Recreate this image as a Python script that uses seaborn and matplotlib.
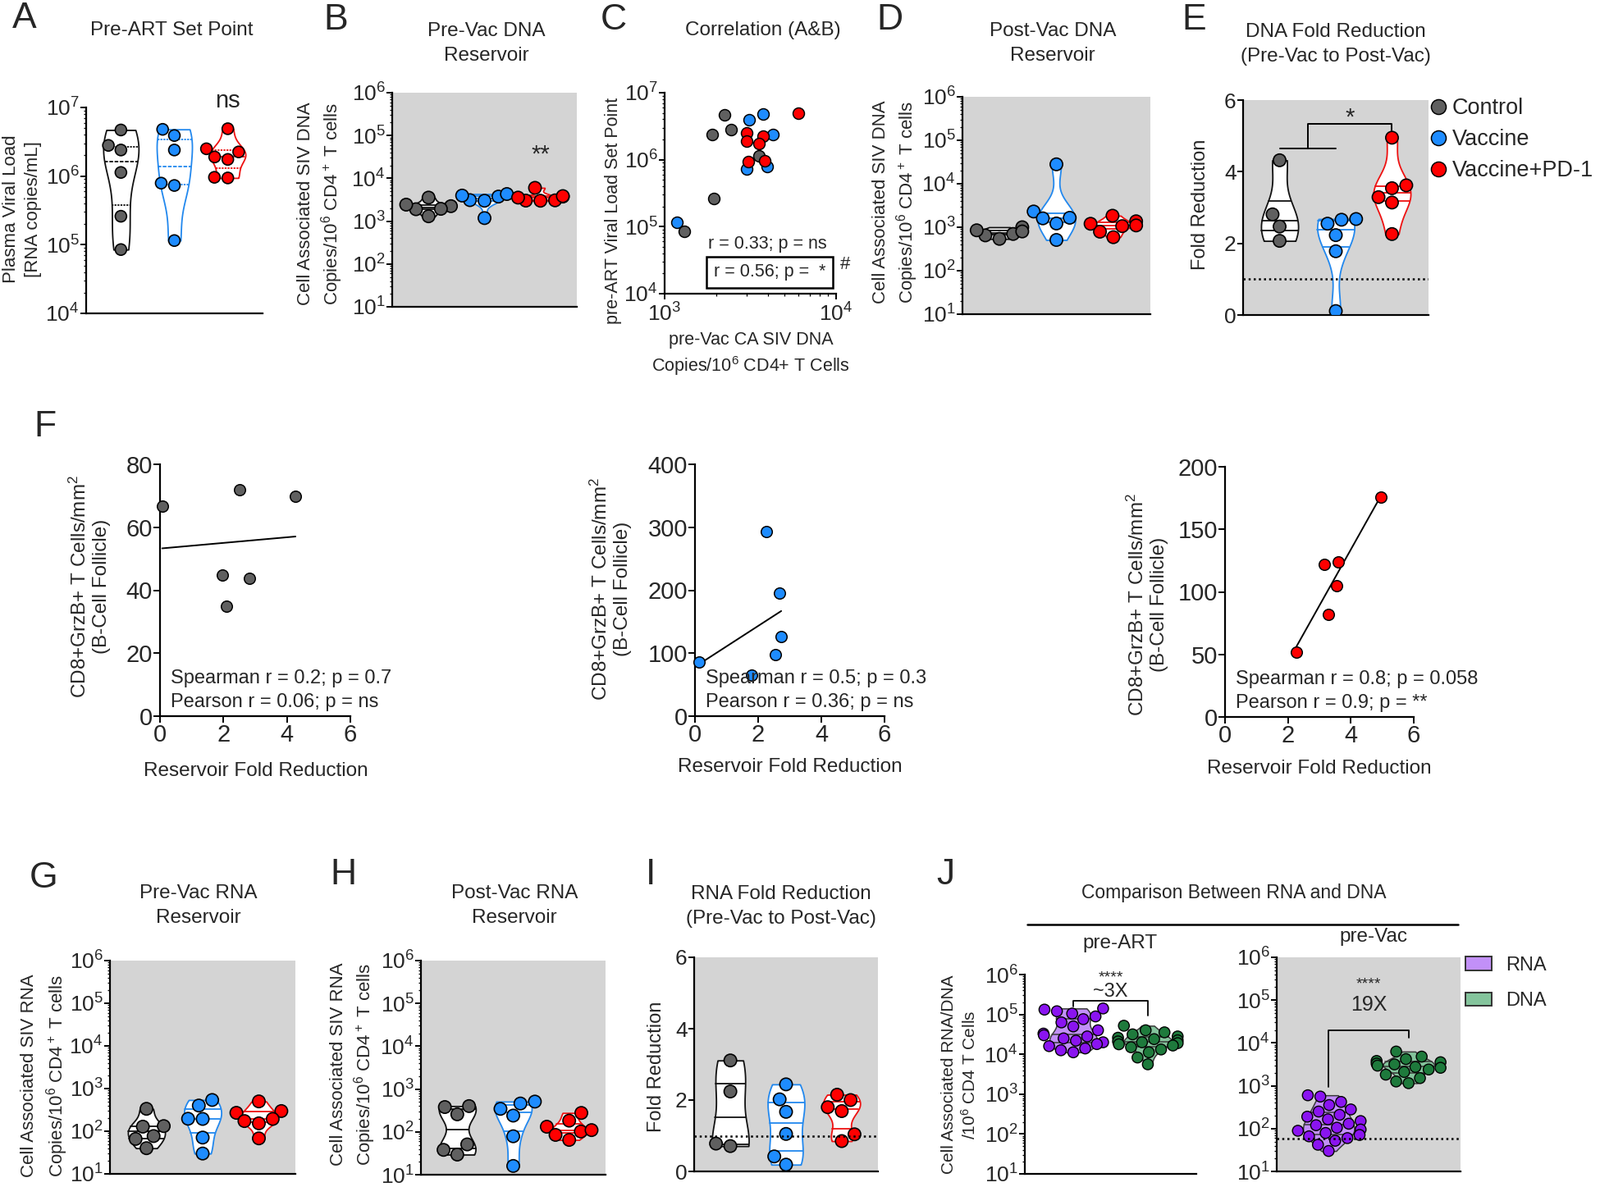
import warnings
warnings.filterwarnings("ignore")
import numpy as np
import pandas as pd
import matplotlib
matplotlib.use("Agg")
import matplotlib.pyplot as plt
from matplotlib.lines import Line2D
from matplotlib.patches import Patch
from matplotlib.collections import LineCollection
from matplotlib.ticker import LogLocator, NullFormatter, FixedLocator
import seaborn as sns

# ---------------- data ----------------
GROUPS = ["Control", "Vaccine", "Vaccine+PD-1"]

# A (and C y): pre-ART plasma viral load, RNA copies/mL
preART_VL_control = [4.7e6, 2.4e6, 2.8e6, 1.13e6, 2.6e5, 8.5e4]
preART_VL_vaccine = [1.15e5, 3.9e6, 4.8e6, 2.4e6, 7.3e5, 7.9e5]
preART_VL_pd1 = [4.9e6, 2.5e6, 1.9e6, 2.25e6, 1.75e6, 9.4e5, 9.6e5]

# B (and C x): pre-Vac CA SIV DNA copies / 1e6 CD4
preVac_DNA_control = [2.24e3, 1.9e3, 2.43e3, 3.55e3, 1.94e3, 1.3e3]
preVac_DNA_vaccine = [1.18e3, 3.1e3, 3.75e3, 4.3e3, 3.0e3, 3.96e3]
preVac_DNA_pd1 = [6.0e3, 3.0e3, 3.02e3, 3.75e3, 3.55e3, 3.06e3, 3.85e3]

# D: post-Vac CA SIV DNA
postVac_DNA_control = [540, 1000, 650, 850, 700, 800]
postVac_DNA_vaccine = [28000, 2300, 1650, 1600, 1220, 510]
postVac_DNA_pd1 = [1370, 1840, 1100, 1060, 790, 590, 1200]

# E: DNA fold reduction
dna_fold_control = [4.32, 2.81, 2.47, 2.07]
dna_fold_vaccine = [2.68, 2.66, 2.55, 2.23, 1.78, 0.11]
dna_fold_pd1 = [4.95, 3.54, 3.62, 3.29, 3.14, 2.26]

# F: reservoir fold reduction vs CD8+GrzB+ T cells/mm2
f_fold_control = [0.07, 2.5, 4.27, 1.96, 2.81, 2.1]
f_cd8_control = [66.7, 71.8, 69.8, 44.7, 43.9, 34.8]
f_fold_vaccine = [0.13, 1.79, 2.25, 2.67, 2.55, 2.73]
f_cd8_vaccine = [86, 65, 293, 195, 98, 126.5]
f_fold_pd1 = [2.27, 3.29, 3.16, 3.6, 3.56, 4.95]
f_cd8_pd1 = [52.1, 81.8, 122.1, 124, 105.1, 175.9]

# G: pre-Vac CA SIV RNA
preVac_RNA_control = [335, 128, 132, 77, 66, 40]
preVac_RNA_vaccine = [400, 540, 194, 196, 71, 30]
preVac_RNA_pd1 = [500, 297, 270, 173, 194, 153, 68]

# H: post-Vac CA SIV RNA
postVac_RNA_control = [400, 380, 257, 51, 29.5, 38]
postVac_RNA_vaccine = [460, 510, 345, 240, 79, 16]
postVac_RNA_pd1 = [277, 183, 132, 102, 85, 65, 110]

# I: RNA fold reduction
rna_fold_control = [3.11, 2.24, 0.71, 0.78]
rna_fold_vaccine = [2.44, 2.02, 1.67, 1.05, 0.42, 0.19]
rna_fold_pd1 = [2.15, 2.0, 1.8, 1.69, 1.04, 0.85]

# J: RNA vs DNA
J_GROUPS = ["RNA", "DNA"]
preART_RNA = [141000, 132000, 120000, 105000, 89000, 76000, 63000, 50000, 40000, 33000,
              30000, 28000, 25000, 22000, 20000, 18000, 16000, 14000, 12600, 11200]
preART_DNA = [52000, 40000, 35500, 31600, 28000, 26000, 24000, 22400, 21000, 20000,
              19000, 17800, 16600, 15000, 13200, 11200, 8300, 5600]
preVac_RNA_all = [600, 560, 420, 355, 280, 250, 210, 190, 165, 150, 130, 120, 105, 95,
                  89, 79, 71, 66, 60, 52, 42, 30]
preVac_DNA_all = [6300, 4800, 4200, 3800, 3550, 3300, 3160, 2950, 2750, 2630, 2400,
                  2100, 1820, 1510, 1260, 1150]
rna_detection_limit = 59

# ---------------- style ----------------
sns.set_style("ticks")
plt.rcParams['font.family'] = ['Liberation Sans', 'DejaVu Sans']
plt.rcParams['mathtext.fontset'] = 'custom'
plt.rcParams['mathtext.rm'] = 'Liberation Sans'
plt.rcParams['mathtext.it'] = 'Liberation Sans:italic'
plt.rcParams['mathtext.bf'] = 'Liberation Sans:bold'
plt.rcParams['mathtext.sf'] = 'Liberation Sans'

PT = {"Control": "#606060", "Vaccine": "#1E8CFF", "Vaccine+PD-1": "#FF0000"}
EDGE = {"Control": "#111111", "Vaccine": "#2288EE", "Vaccine+PD-1": "#EE1111"}
BG = "#d4d4d4"
J_PT = {"RNA": "#8A14F0", "DNA": "#1E7A3C"}
J_FILL = {"RNA": "#C290F8", "DNA": "#84C49C"}

LETTER = 32
TITLE = 17.5
TICK = 19

W, H = 1950, 1447
fig = plt.figure(figsize=(W / 100, H / 100), dpi=100)


def add_ax(l, t, r, b):
    return fig.add_axes([l / W, 1 - b / H, (r - l) / W, (b - t) / H])


def ftext(x, y, s, **kw):
    return fig.text(x / W, 1 - y / H, s, **kw)


def style(ax, gray=False, ticksize=TICK):
    for s in ['top', 'right']:
        ax.spines[s].set_visible(False)
    for s in ['left', 'bottom']:
        ax.spines[s].set_linewidth(1.6)
        ax.spines[s].set_color('black')
    if gray:
        ax.set_facecolor(BG)
    ax.tick_params(axis='both', which='major', length=5, width=1.4, pad=1,
                   labelsize=ticksize, color='black')
    ax.tick_params(axis='both', which='minor', length=2.5, width=0.9, color='black')
    ax.set_xlabel('')
    ax.set_ylabel('')


def log_y(ax, lo, hi):
    ax.set_yscale('log')
    ax.set_ylim(10 ** lo, 10 ** hi)
    ax.yaxis.set_major_locator(FixedLocator([10 ** k for k in range(lo, hi + 1)]))
    ax.yaxis.set_minor_locator(LogLocator(base=10, subs=np.arange(2, 10), numticks=30))
    ax.yaxis.set_minor_formatter(NullFormatter())


def group_panel(ax, data, log, solid=True, size=11):
    df = pd.DataFrame([(g, v) for g in GROUPS for v in data[g]], columns=['group', 'value'])
    for g in GROUPS:
        sns.violinplot(data=df[df.group == g], x='group', y='value', order=GROUPS,
                       color='white', saturation=1, linecolor=EDGE[g], linewidth=1.3,
                       inner='quart', cut=0, density_norm='width', width=0.66,
                       bw_adjust=0.8, log_scale=(True if log else None), ax=ax,
                       inner_kws=dict(linewidth=1.3))
    if solid:
        for c in ax.collections:
            if isinstance(c, LineCollection):
                c.set_linestyle('solid')
        for ln in ax.lines:
            ln.set_linestyle('solid')
    sns.swarmplot(data=df, x='group', y='value', hue='group', order=GROUPS,
                  hue_order=GROUPS, palette=PT, size=size, edgecolor='black',
                  linewidth=1.2, legend=False, log_scale=(True if log else None), ax=ax)
    ax.set_xlim(-0.65, 2.65)
    ax.set_xticks([])


def j_panel(ax, rna, dna):
    df = pd.DataFrame([("RNA", v) for v in rna] + [("DNA", v) for v in dna],
                      columns=['kind', 'value'])
    for g in J_GROUPS:
        sns.violinplot(data=df[df.kind == g], x='kind', y='value', order=J_GROUPS,
                       color=J_FILL[g], saturation=1, linecolor='#3a3a3a', linewidth=1.1,
                       inner='quart', cut=0, density_norm='width', width=0.64,
                       bw_adjust=0.9, log_scale=True, ax=ax, inner_kws=dict(linewidth=1.1))
    for c in ax.collections:
        if isinstance(c, LineCollection):
            c.set_linestyle('solid')
    for ln in ax.lines:
        ln.set_linestyle('solid')
    sns.swarmplot(data=df, x='kind', y='value', hue='kind', order=J_GROUPS,
                  hue_order=J_GROUPS, palette=J_PT, size=9.5, edgecolor='black',
                  linewidth=1.0, legend=False, log_scale=True, ax=ax)
    ax.set_xlim(-0.65, 1.65)
    ax.set_xticks([])


# ---------------- A ----------------
axA = add_ax(105, 131, 320, 382)
group_panel(axA, {"Control": preART_VL_control, "Vaccine": preART_VL_vaccine,
                  "Vaccine+PD-1": preART_VL_pd1}, log=True, solid=False, size=10)
log_y(axA, 4, 7)
style(axA)
axA.text(2, 10 ** 7.1, "ns", ha='center', va='center', fontsize=21, clip_on=False)

# ---------------- B ----------------
axB = add_ax(478, 113, 703, 374)
group_panel(axB, {"Control": preVac_DNA_control, "Vaccine": preVac_DNA_vaccine,
                  "Vaccine+PD-1": preVac_DNA_pd1}, log=True)
log_y(axB, 1, 6)
style(axB, gray=True)
axB.text(2, 10 ** 4.56, "**", ha='center', va='center', fontsize=21)

# ---------------- C ----------------
axC = add_ax(810, 113, 1019, 358)
for g, xv, yv in zip(GROUPS,
                     [preVac_DNA_control, preVac_DNA_vaccine, preVac_DNA_pd1],
                     [preART_VL_control, preART_VL_vaccine, preART_VL_pd1]):
    sns.scatterplot(x=xv, y=yv, color=PT[g], edgecolor='black', linewidth=1.1, s=100,
                    ax=axC, zorder=3, clip_on=False)
axC.set_xscale('log')
axC.set_xlim(1e3, 1e4)
axC.xaxis.set_major_locator(FixedLocator([1e3, 1e4]))
axC.xaxis.set_minor_locator(LogLocator(base=10, subs=np.arange(2, 10), numticks=30))
axC.xaxis.set_minor_formatter(NullFormatter())
log_y(axC, 4, 7)
style(axC)
axC.tick_params(axis='x', which='major', pad=3)
ftext(935, 297, "r = 0.33; p = ns", ha='center', va='center', fontsize=15.5)
ftext(938, 332, "r = 0.56; p =  *", ha='center', va='center', fontsize=15.5,
      bbox=dict(boxstyle='square,pad=0.4', fc='none', ec='black', lw=1.8))
ftext(1030, 322, "#", ha='center', va='center', fontsize=16)

# ---------------- D ----------------
axD = add_ax(1173, 118, 1402, 383)
group_panel(axD, {"Control": postVac_DNA_control, "Vaccine": postVac_DNA_vaccine,
                  "Vaccine+PD-1": postVac_DNA_pd1}, log=True)
log_y(axD, 1, 6)
style(axD, gray=True)

# ---------------- E ----------------
axE = add_ax(1515, 122, 1741, 384)
group_panel(axE, {"Control": dna_fold_control, "Vaccine": dna_fold_vaccine,
                  "Vaccine+PD-1": dna_fold_pd1}, log=False)
axE.axhline(1, color='black', ls=(0, (1, 1.5)), lw=1.8, zorder=1)
axE.set_ylim(0, 6)
axE.set_yticks([0, 2, 4, 6])
style(axE, gray=True)
axE.plot([0, 1], [4.65, 4.65], color='black', lw=1.4)
axE.plot([0.5, 0.5, 2, 2], [4.65, 5.33, 5.33, 5.16], color='black', lw=1.4)
axE.text(1.25, 5.5, "*", ha='center', va='center', fontsize=21)
handles = [Line2D([], [], marker='o', ls='', markerfacecolor=PT[g], markeredgecolor='black',
                  markeredgewidth=1.1, markersize=13) for g in GROUPS]
fig.legend(handles, GROUPS, loc='upper left', bbox_to_anchor=(1745 / W, 1 - 119 / H),
           frameon=False, fontsize=19.5, handlelength=0.6, handletextpad=0.3,
           labelspacing=0.45, borderpad=0, borderaxespad=0)

# ---------------- F ----------------
def f_panel(box, xv, yv, color, ylim, yticks):
    ax = add_ax(*box)
    sns.regplot(x=xv, y=yv, ci=None, scatter=False, truncate=True, color='black',
                line_kws=dict(linewidth=1.4), ax=ax)
    sns.scatterplot(x=xv, y=yv, color=color, edgecolor='black', linewidth=1.1, s=95,
                    ax=ax, zorder=3, clip_on=False)
    ax.set_xlim(0, 6)
    ax.set_ylim(*ylim)
    ax.set_xticks([0, 2, 4, 6])
    ax.set_yticks(yticks)
    style(ax, ticksize=21)
    ax.tick_params(axis='both', which='major', length=6, pad=0.5)
    return ax

axF1 = f_panel((195, 566, 427, 873), f_fold_control, f_cd8_control, PT["Control"],
               (0, 80), [0, 20, 40, 60, 80])
axF2 = f_panel((847, 566, 1078, 873), f_fold_vaccine, f_cd8_vaccine, PT["Vaccine"],
               (0, 400), [0, 100, 200, 300, 400])
axF3 = f_panel((1493, 569, 1723, 874), f_fold_pd1, f_cd8_pd1, PT["Vaccine+PD-1"],
               (0, 200), [0, 50, 100, 150, 200])
for ax, sp, pe in [(axF1, "Spearman r = 0.2; p = 0.7", "Pearson r = 0.06; p = ns"),
                   (axF2, "Spearman r = 0.5; p = 0.3", "Pearson r = 0.36; p = ns"),
                   (axF3, "Spearman r = 0.8; p = 0.058", "Pearson r = 0.9; p = **")]:
    ax.text(0.055, 0.15, sp, transform=ax.transAxes, ha='left', va='center', fontsize=17)
    ax.text(0.055, 0.055, pe, transform=ax.transAxes, ha='left', va='center', fontsize=17)

f_ylabel = "CD8+GrzB+ T Cells/mm$^2$\n(B-Cell Follicle)"
for x, y in [(110, 715), (745, 718), (1399, 737)]:
    ftext(x, y, f_ylabel, rotation=90, ha='center', va='center', fontsize=17.5,
          multialignment='center', linespacing=1.15)
for x, y in [(312, 940), (963, 935), (1608, 937)]:
    ftext(x, y, "Reservoir Fold Reduction", ha='center', va='center', fontsize=17.5)

# ---------------- G ----------------
axG = add_ax(134, 1171, 360, 1431)
group_panel(axG, {"Control": preVac_RNA_control, "Vaccine": preVac_RNA_vaccine,
                  "Vaccine+PD-1": preVac_RNA_pd1}, log=True)
log_y(axG, 1, 6)
style(axG, gray=True)

# ---------------- H ----------------
axH = add_ax(513, 1171, 738, 1432)
group_panel(axH, {"Control": postVac_RNA_control, "Vaccine": postVac_RNA_vaccine,
                  "Vaccine+PD-1": postVac_RNA_pd1}, log=True)
log_y(axH, 1, 6)
style(axH, gray=True)

# ---------------- I ----------------
axI = add_ax(846, 1167, 1070, 1428)
group_panel(axI, {"Control": rna_fold_control, "Vaccine": rna_fold_vaccine,
                  "Vaccine+PD-1": rna_fold_pd1}, log=False)
axI.axhline(1, color='black', ls=(0, (1, 1.5)), lw=1.8, zorder=4)
axI.set_ylim(0, 6)
axI.set_yticks([0, 2, 4, 6])
style(axI, gray=True)

# ---------------- J ----------------
axJ1 = add_ax(1249, 1188, 1458, 1431)
j_panel(axJ1, preART_RNA, preART_DNA)
log_y(axJ1, 1, 6)
style(axJ1, ticksize=19)
axJ1.plot([0, 0, 1, 1], [1.6e5, 2.15e5, 2.15e5, 9.3e4], color='black', lw=1.3, clip_on=False)
axJ1.text(0.5, 10 ** 5.92, "****", ha='center', va='center', fontsize=14, clip_on=False)
axJ1.text(0.5, 10 ** 5.57, "~3X", ha='center', va='center', fontsize=17, clip_on=False)

axJ2 = add_ax(1556, 1167, 1780, 1428)
j_panel(axJ2, preVac_RNA_all, preVac_DNA_all)
axJ2.axhline(rna_detection_limit, color='black', ls=(0, (1, 1.5)), lw=1.8, zorder=4)
log_y(axJ2, 1, 6)
style(axJ2, gray=True, ticksize=19)
axJ2.plot([0, 0, 1, 1], [930, 19500, 19500, 13200], color='black', lw=1.3)
axJ2.text(0.5, 10 ** 5.36, "****", ha='center', va='center', fontsize=14)
axJ2.text(0.5, 10 ** 4.88, "19X", ha='center', va='center', fontsize=18)

jh = [Patch(facecolor=J_FILL[g], edgecolor='#333333', linewidth=1.4) for g in J_GROUPS]
fig.legend(jh, J_GROUPS, loc='upper left', bbox_to_anchor=(1786 / W, 1 - 1166 / H),
           frameon=False, fontsize=17, handlelength=1.35, handleheight=0.7,
           handletextpad=0.75, labelspacing=0.9, borderpad=0, borderaxespad=0)

ftext(1504, 1088, "Comparison Between RNA and DNA", ha='center', va='center', fontsize=16.5)
fig.add_artist(Line2D([1252 / W, 1777 / W], [1 - 1127 / H, 1 - 1127 / H], color='black',
                      lw=1.8))
ftext(1365, 1150, "pre-ART", ha='center', va='center', fontsize=17.5)
ftext(1674, 1142, "pre-Vac", ha='center', va='center', fontsize=17.5)

# ---------------- titles / labels / letters ----------------
titles = [(209, 37, "Pre-ART Set Point"), (593, 53, "Pre-Vac DNA\nReservoir"),
          (930, 37, "Correlation (A&B)"), (1283, 53, "Post-Vac DNA\nReservoir"),
          (1628, 54, "DNA Fold Reduction\n(Pre-Vac to Post-Vac)"),
          (242, 1104, "Pre-Vac RNA\nReservoir"), (627, 1104, "Post-Vac RNA\nReservoir"),
          (952, 1105, "RNA Fold Reduction\n(Pre-Vac to Post-Vac)")]
for x, y, s in titles:
    ftext(x, y, s, ha='center', va='center', fontsize=TITLE, linespacing=1.45)

ylabels = [(27, 255, "Plasma Viral Load\n[RNA copies/mL]", 16, 1.4),
           (391, 248, "Cell Associated SIV DNA\nCopies/10$^6$ CD4$^+$ T cells", 16, 1.3),
           (748, 257, "pre-ART Viral Load Set Point", 15.5, 1.2),
           (1092, 246, "Cell Associated SIV DNA\nCopies/10$^6$ CD4$^+$ T cells", 16, 1.3),
           (1463, 249, "Fold Reduction", 17, 1.2),
           (55, 1311, "Cell Associated SIV RNA\nCopies/10$^6$ CD4$^+$ T cells", 16, 1.35),
           (431, 1297, "Cell Associated SIV RNA\nCopies/10$^6$ CD4$^+$ T cells", 16, 1.3),
           (800, 1300, "Fold Reduction", 17, 1.2),
           (1170, 1310, "Cell Associated RNA/DNA\n/10$^6$ CD4 T Cells", 15, 1.25)]
for x, y, s, fs, ls in ylabels:
    ftext(x, y, s, rotation=90, ha='center', va='center', fontsize=fs,
          multialignment='center', linespacing=ls)
ftext(915, 432, "pre-Vac CA SIV DNA\nCopies/10$^6$ CD4+ T Cells", ha='center', va='center',
      fontsize=15.5, multialignment='center', linespacing=1.3)

letters = [(30, 23, "A"), (409, 25, "B"), (748, 25, "C"), (1084, 25, "D"), (1455, 25, "E"),
           (55, 520, "F"), (53, 1071, "G"), (418, 1066, "H"), (793, 1066, "I"),
           (1152, 1066, "J")]
for x, y, s in letters:
    ftext(x, y, s, ha='center', va='center', fontsize=LETTER)

fig.savefig("out.png", dpi=100)
